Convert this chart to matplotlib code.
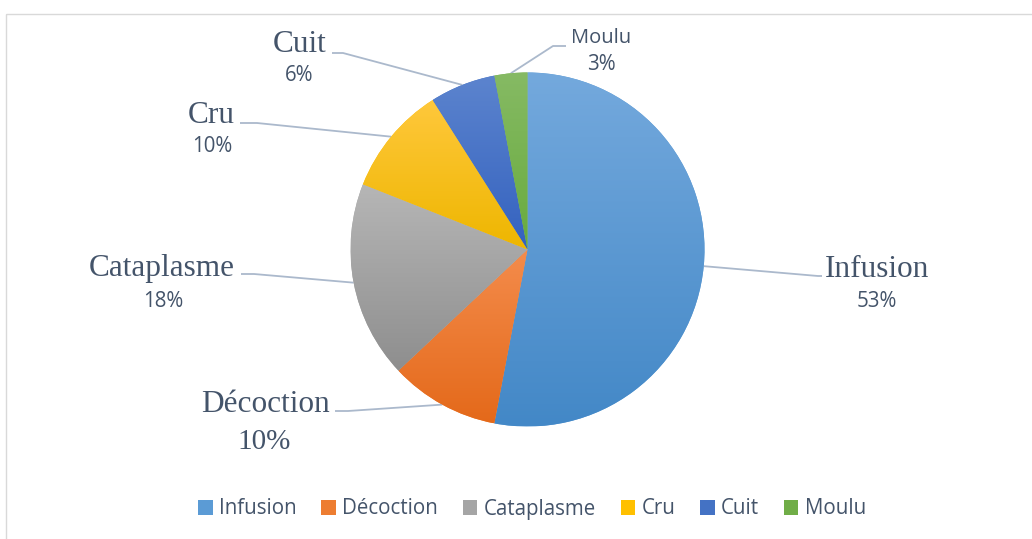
import numpy as np
import matplotlib
matplotlib.use("Agg")
import matplotlib.pyplot as plt
from matplotlib.patches import Patch, Rectangle
from matplotlib.colors import to_rgb

# ---------------- data ----------------
categories = ["Infusion", "Décoction", "Cataplasme", "Cru", "Cuit", "Moulu"]
values = [53, 10, 18, 10, 6, 3]
pct_labels = ["53%", "10%", "18%", "10%", "6%", "3%"]

# ---------------- style ----------------
top_colors = ["#74A9DD", "#F48C4C", "#B6B6B6", "#FFC83C", "#5C84CE", "#86BA64"]
bot_colors = ["#4388C7", "#E4691A", "#8E8E8E", "#EEB600", "#3462BF", "#68AB3D"]
mid_colors = ["#5B9BD5", "#ED7D31", "#A5A5A5", "#FFC000", "#4472C4", "#70AD47"]
text_color = "#44546A"
line_color = "#ABB9CC"
serif = "Liberation Serif"
sans = "Open Sans"

W, H = 1032, 539
fig = plt.figure(figsize=(W / 100, H / 100), dpi=100)
ax = fig.add_axes([0, 0, 1, 1])

cx, cy, R = 527.5, 249.5, 177.0
wedges, _ = ax.pie(values, startangle=-90, counterclock=True,
                   center=(cx, cy), radius=R, colors=mid_colors,
                   wedgeprops=dict(linewidth=0))
ax.set_xlim(0, W)
ax.set_ylim(H, 0)
ax.set_aspect("auto")
ax.axis("off")

# gradient fills clipped to each wedge
for w, c0, c1 in zip(wedges, top_colors, bot_colors):
    ext = w.get_path().get_extents()
    a = np.array(to_rgb(c0)); b = np.array(to_rgb(c1))
    t = np.linspace(0, 1, 256)[:, None]
    grad = (a[None, :] * (1 - t) + b[None, :] * t)[:, None, :]
    im = ax.imshow(grad, extent=(ext.x0, ext.x1, ext.y1, ext.y0),
                   origin="upper", aspect="auto", zorder=2, interpolation="bilinear")
    im.set_clip_path(w)
ax.set_xlim(0, W)
ax.set_ylim(H, 0)

# label layout (name pos, pct pos, leader elbow points)
name_pos = [(877, 277), (265, 412), (162, 276), (211, 123), (300, 52), (601, 43)]
pct_pos = [(877, 307), (264, 449), (163, 307), (212, 152), (299, 81), (601, 70)]
name_font = [(serif, 22.5), (serif, 22.5), (serif, 22.5), (serif, 22.5), (serif, 22.5), (sans, 14.5)]
pct_font = [(sans, 14.8), (serif, 21), (sans, 14.8), (sans, 14.8), (sans, 14.8), (sans, 14.8)]
leader_pts = [[(822, 276), (818, 276)],
              [(335, 411), (348, 411)],
              [(241, 274), (254, 274)],
              [(240, 123), (257, 123)],
              [(332, 53), (343, 53)],
              [(566, 46), (553, 46)]]

for i, w in enumerate(wedges):
    th = np.deg2rad((w.theta1 + w.theta2) / 2)
    px, py = cx + R * np.cos(th), cy + R * np.sin(th)
    pts = leader_pts[i] + [(px, py)]
    xs, ys = zip(*pts)
    ax.plot(xs, ys, color=line_color, lw=1.3, zorder=1, solid_capstyle="butt")
    fam, sz = name_font[i]
    ax.text(*name_pos[i], categories[i], family=fam, fontsize=sz, color=text_color,
            ha="center", va="baseline")
    fam, sz = pct_font[i]
    ax.text(*pct_pos[i], pct_labels[i], family=fam, fontsize=sz, color=text_color,
            ha="center", va="baseline")

# chart frame
ax.add_patch(Rectangle((5.5, 13.5), 1200, 700, fill=False, edgecolor="#D9D9D9",
                       lw=1.0, clip_on=False, zorder=0))

handles = [Patch(facecolor=c, edgecolor="none") for c in mid_colors]
leg = fig.legend(handles, categories, loc="center", ncol=6, frameon=False,
                 bbox_to_anchor=(532 / W, 1 - 509 / H),
                 prop=dict(family=sans, size=14.8), labelcolor=text_color,
                 handlelength=0.7, handleheight=0.7, handletextpad=0.3,
                 columnspacing=1.22)

fig.savefig("out.png", dpi=100)
